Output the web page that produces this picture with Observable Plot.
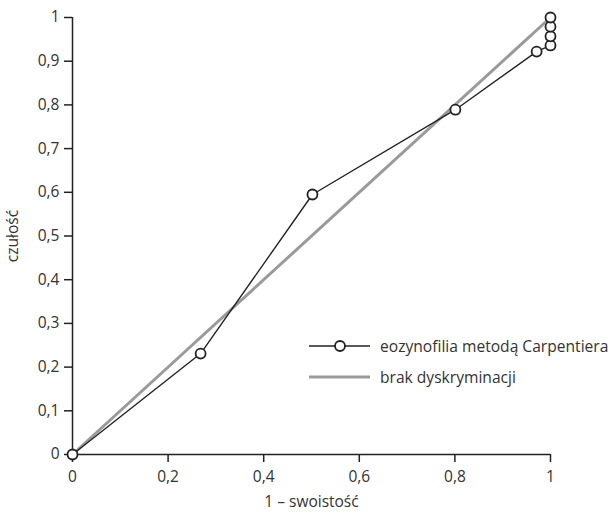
<!DOCTYPE html>
<html>
<head>
<meta charset="utf-8">
<script src="https://cdn.jsdelivr.net/npm/d3@7"></script>
<script src="https://cdn.jsdelivr.net/npm/@observablehq/plot@0.6"></script>
<style>
  html, body { margin: 0; padding: 0; background: #fff; }
  #wrap { position: relative; width: 616px; height: 515px; font-family: "Open Sans", sans-serif; }
  #legend { position: absolute; left: 309px; top: 330px; font-size: 15.6px; color: #333; }
  .row { display: flex; align-items: center; height: 31px; }
  .row svg { margin-right: 10px; }
</style>
</head>
<body>
<div id="wrap"></div>
<script>
// ROC curve points: 1 - specificity (x) and sensitivity (y)
const fpr = [0, 0.268, 0.502, 0.801, 0.971, 1, 1, 1, 1];
const tpr = [0, 0.231, 0.595, 0.789, 0.922, 0.936, 0.957, 0.979, 1];
const diagX = [0, 1];
const diagY = [0, 1];
const xTicks = [0, 0.2, 0.4, 0.6, 0.8, 1];
const yTicks = [0, 0.1, 0.2, 0.3, 0.4, 0.5, 0.6, 0.7, 0.8, 0.9, 1];
const seriesNames = ["eozynofilia metodą Carpentiera", "brak dyskryminacji"];
const xLabel = "1 – swoistość";
const yLabel = "czułość";

const roc = fpr.map((x, i) => ({x, y: tpr[i]}));
const diag = diagX.map((x, i) => ({x, y: diagY[i]}));
const fmt = d => (d === 0 || d === 1) ? String(d) : d3.format(".1f")(d).replace(".", ",");

const chart = Plot.plot({
  width: 616,
  height: 515,
  marginLeft: 72,
  marginRight: 66,
  marginTop: 17,
  marginBottom: 61,
  style: {fontFamily: "Open Sans, sans-serif", fontSize: "15.5px", color: "#333", background: "#fff"},
  x: {domain: [0, 1]},
  y: {domain: [0, 1]},
  marks: [
    Plot.axisX({ticks: xTicks, tickFormat: fmt, tickSize: 8, tickPadding: 8, label: xLabel, labelAnchor: "center", labelArrow: "none", labelOffset: 52, stroke: "#222", strokeWidth: 1.5}),
    Plot.axisY({ticks: yTicks, tickFormat: fmt, tickSize: 8, tickPadding: 5, label: yLabel, labelAnchor: "center", labelArrow: "none", labelOffset: 66, stroke: "#222", strokeWidth: 1.5}),
    Plot.ruleY([0], {stroke: "#222", strokeWidth: 1.5}),
    Plot.ruleX([0], {stroke: "#222", strokeWidth: 1.5}),
    Plot.line(diag, {x: "x", y: "y", stroke: "#9a9a9a", strokeWidth: 3}),
    Plot.line(roc, {x: "x", y: "y", stroke: "#222", strokeWidth: 1.4}),
    Plot.dot(roc, {x: "x", y: "y", r: 5, fill: "#fff", stroke: "#222", strokeWidth: 1.8})
  ]
});

const wrap = document.getElementById("wrap");
wrap.appendChild(chart);

const legend = document.createElement("div");
legend.id = "legend";
legend.innerHTML = `
  <div class="row"><svg width="61" height="12"><line x1="0" y1="6" x2="61" y2="6" stroke="#222" stroke-width="1.4"/><circle cx="31" cy="6" r="5" fill="#fff" stroke="#222" stroke-width="1.8"/></svg><span>${seriesNames[0]}</span></div>
  <div class="row"><svg width="61" height="12"><line x1="0" y1="6" x2="61" y2="6" stroke="#9a9a9a" stroke-width="3"/></svg><span>${seriesNames[1]}</span></div>`;
wrap.appendChild(legend);
</script>
</body>
</html>
